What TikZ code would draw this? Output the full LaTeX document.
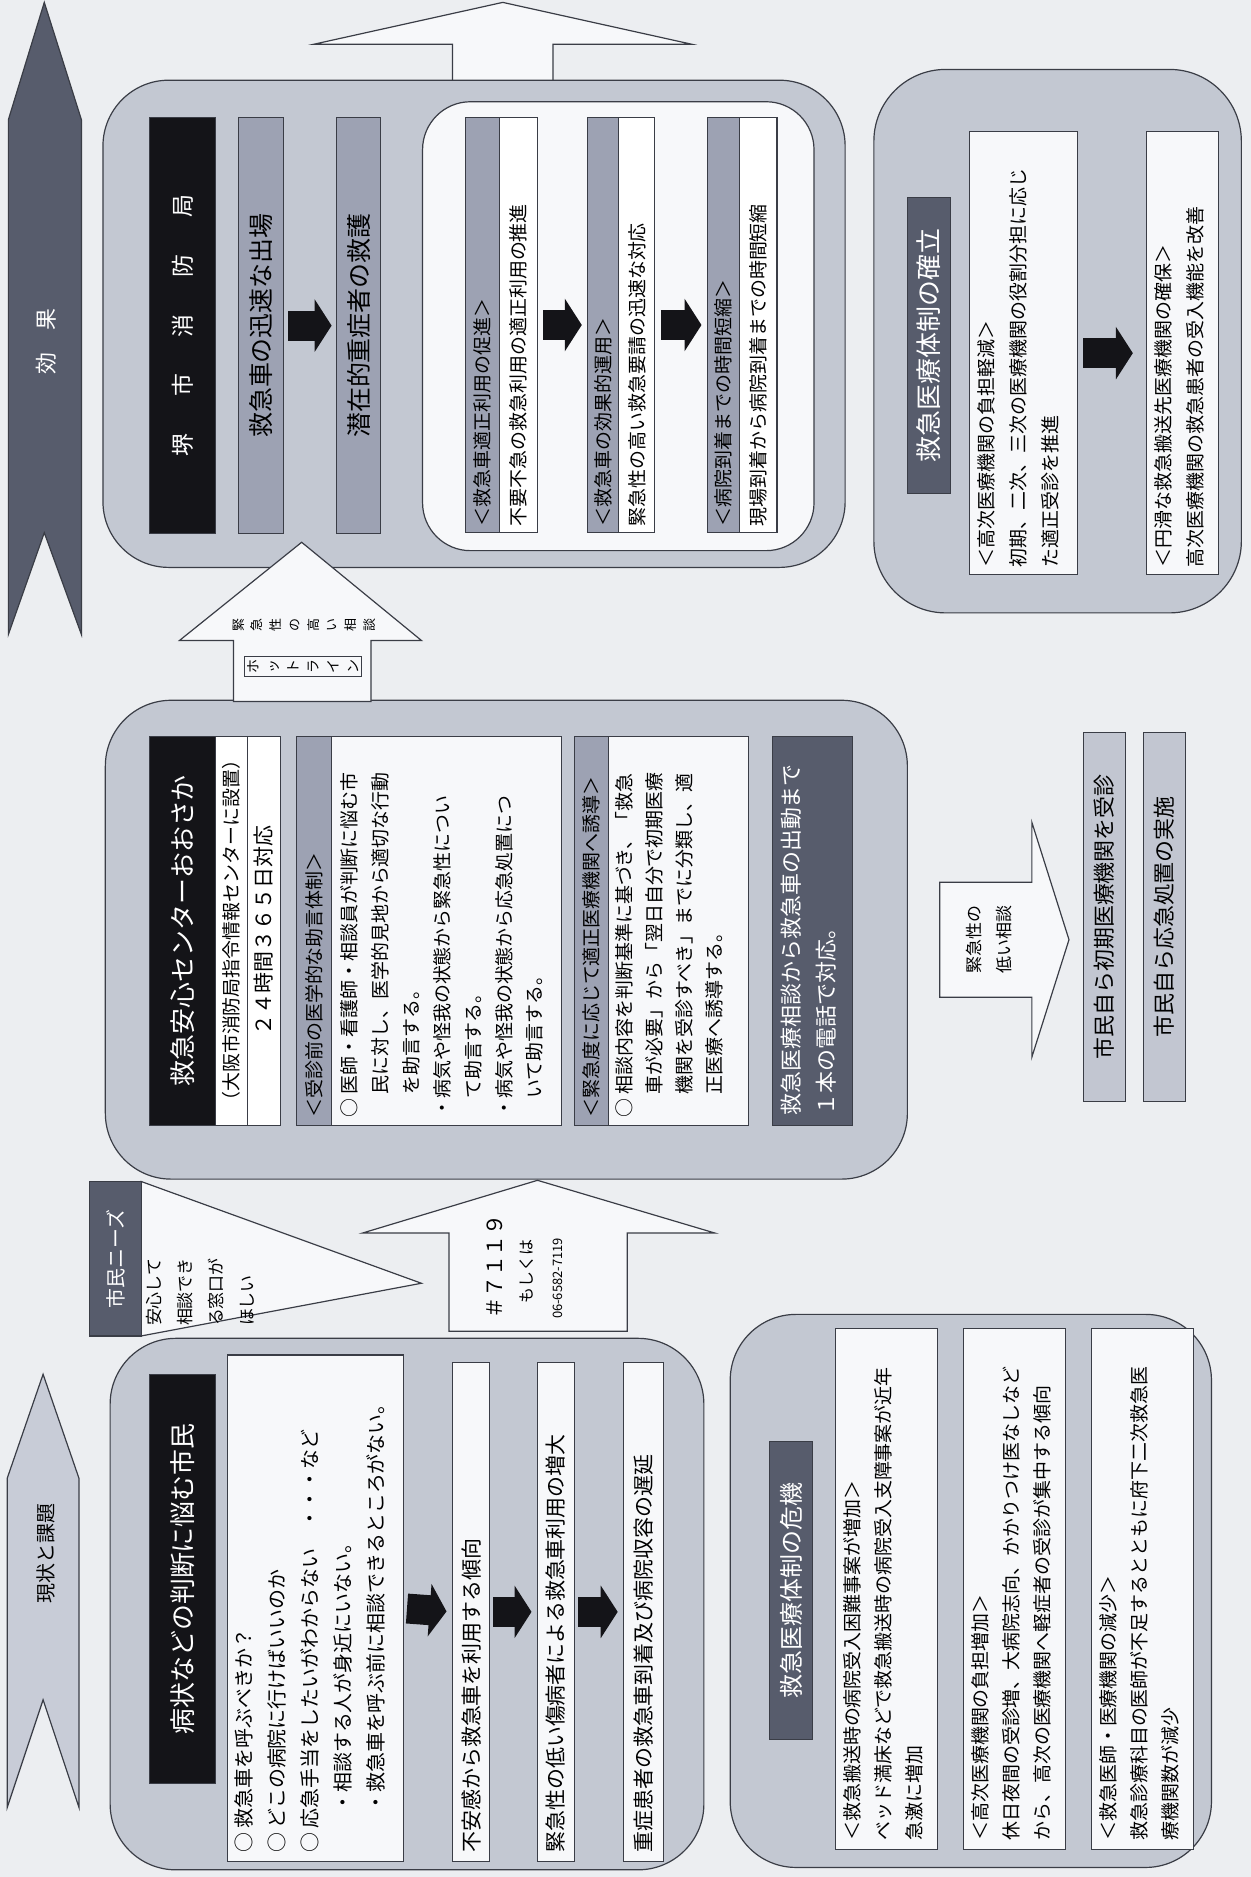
\documentclass[tikz,border=0pt]{standalone}
\usepackage{fontspec}
\setmainfont{Noto Sans CJK JP}
\usetikzlibrary{arrows.meta}
\definecolor{bgc}{HTML}{ECEEF1}
\definecolor{boxc}{HTML}{C3C8D2}
\definecolor{panelc}{HTML}{F7F8FA}
\definecolor{hdrc}{HTML}{9DA2B3}
\definecolor{darkc}{HTML}{575C6C}
\definecolor{blkc}{HTML}{141418}
\definecolor{edgec}{HTML}{3A3D46}
\definecolor{lightc}{HTML}{C8CCD7}
\definecolor{midc}{HTML}{C2C6D1}
\newcommand\fs[2]{\fontsize{#1}{#2}\selectfont}
% rotated rectangle node: name, x1,y1,x2,y2 (image coords), style, text
\newcommand\RB[7]{%
  \pgfmathsetmacro\rbcx{(#2+#4)/2}%
  \pgfmathsetmacro\rbcy{(#3+#5)/2}%
  \pgfmathsetmacro\rbw{abs(#5-#3)*0.6}%
  \pgfmathsetmacro\rbh{abs(#4-#2)*0.6}%
  \node[rotate=90, minimum width=\rbw pt, minimum height=\rbh pt, inner sep=0pt, outer sep=0pt, #6] (#1) at (\rbcx,\rbcy) {#7};}
\begin{document}
\begin{tikzpicture}[x=0.6pt,y=-0.6pt,
  outline/.style={draw=edgec, line width=0.6pt},
  bigbox/.style={outline, fill=boxc, rounded corners=33pt},
  whitebox/.style={outline, fill=panelc},
  purewhite/.style={outline, fill=white},
  hdrbox/.style={outline, fill=hdrc},
  blackbox/.style={outline, fill=blkc, text=white},
  darkbox/.style={outline, fill=darkc, text=white},
  midbox/.style={outline, fill=midc},
  txt/.style={rotate=90, inner sep=0pt},
  blkarrow/.style={draw=blkc, line width=15pt, -{Triangle[length=8.5pt,width=26pt]}}]
\useasboundingbox (0,0) rectangle (1045,1568);
\fill[bgc] (0,0) rectangle (1045,1568);

% ---- left column arrows
\draw[outline, fill=darkc] (37,2) -- (68,100) -- (68,530) -- (37,445) -- (7,530) -- (7,100) -- cycle;
\node[txt, text=white, font=\fs{11}{13}] (effT) at (39,285) {効　果};
\draw[outline, fill=lightc] (36,1148) -- (66,1235) -- (66,1510) -- (36,1420) -- (6,1510) -- (6,1235) -- cycle;
\node[txt, font=\fs{10}{12}] (genT) at (38,1298) {現状と課題};

% ---- top hollow arrow
\draw[outline, fill=panelc] (420,2) -- (578,37) -- (462,37) -- (462,68) -- (378,68) -- (378,37) -- (262,37) -- cycle;

% ---- Box 3 : Sakai fire department
\RB{b3}{86}{67}{706}{474}{bigbox}{}
\RB{b3t}{125}{98}{180}{446}{blackbox, font=\fs{11.5}{14}}{堺\hspace{1.6em}市\hspace{1.6em}消\hspace{1.6em}防\hspace{1.6em}局}
\RB{b3a}{199}{98}{237}{446}{hdrbox, font=\fs{12.5}{14}}{救急車の迅速な出場}
\RB{b3b}{281}{98}{318}{446}{hdrbox, font=\fs{12.5}{14}}{潜在的重症者の救護}
\draw[blkarrow, shorten <=2.4pt, shorten >=2.4pt] (b3a.south) -- (b3b.north);
\RB{b3in}{353}{85}{680}{460}{whitebox, rounded corners=24pt}{}
\RB{p1h}{389}{98}{417}{445}{hdrbox}{}
\RB{p1w}{417}{98}{449}{445}{purewhite}{}
\RB{p2h}{491}{98}{517}{445}{hdrbox}{}
\RB{p2w}{517}{98}{547}{445}{purewhite}{}
\RB{p3h}{591}{98}{618}{445}{hdrbox}{}
\RB{p3w}{618}{98}{649}{445}{purewhite}{}
\node[txt, anchor=west, font=\fs{9.5}{12}] (p1hT) at (403,440) {＜救急車適正利用の促進＞};
\node[txt, anchor=west, font=\fs{9.5}{12}] (p1wT) at (433,440) {不要不急の救急利用の適正利用の推進};
\node[txt, anchor=west, font=\fs{9.5}{12}] (p2hT) at (504,440) {＜救急車の効果的運用＞};
\node[txt, anchor=west, font=\fs{9.5}{12}] (p2wT) at (532,440) {緊急性の高い救急要請の迅速な対応};
\node[txt, anchor=west, font=\fs{9.5}{12}] (p3hT) at (604.5,440) {＜病院到着までの時間短縮＞};
\node[txt, anchor=west, font=\fs{9.5}{12}] (p3wT) at (633.5,440) {現場到着から病院到着までの時間短縮};
\draw[blkarrow, shorten <=3pt, shorten >=3pt] (p1w.south) -- (p2h.north);
\draw[blkarrow, shorten <=3pt, shorten >=3pt] (p2w.south) -- (p3h.north);

% ---- Box 2 : Kyukyu Anshin Center
\RB{b2}{88}{585}{758}{985}{bigbox}{}
\RB{b2t}{125}{615}{180}{940}{blackbox, font=\fs{13}{15}}{救急安心センターおおさか}
\RB{b2s1}{180}{615}{207}{940}{purewhite, font=\fs{9.5}{11}}{（大阪市消防局指令情報センターに設置）}
\RB{b2s2}{207}{615}{234}{940}{purewhite, font=\fs{10.5}{12}}{２４時間３６５日対応}
\RB{b2h1}{248}{615}{277}{940}{hdrbox}{}
\node[txt, anchor=west, font=\fs{9.5}{12}] (b2h1T) at (262.5,934) {＜受診前の医学的な助言体制＞};
\RB{b2p1}{277}{615}{469}{940}{whitebox}{}
\node[txt, anchor=north west, align=left, font=\fs{9.5}{15.5}] (b2p1T) at (284,934) {○ 医師・看護師・相談員が判断に悩む市\\
\hphantom{○ }民に対し、医学的見地から適切な行動\\
\hphantom{○ }を助言する。\\
・病気や怪我の状態から緊急性につい\\
\hphantom{・}て助言する。\\
・病気や怪我の状態から応急処置につ\\
\hphantom{・}いて助言する。};
\RB{b2h2}{480}{615}{508}{940}{hdrbox}{}
\node[txt, anchor=west, font=\fs{9.5}{12}] (b2h2T) at (494,934) {＜緊急度に応じて適正医療機関へ誘導＞};
\RB{b2p2}{508}{615}{625}{940}{whitebox}{}
\node[txt, anchor=north west, align=left, font=\fs{9.5}{15}] (b2p2T) at (514,934) {○ 相談内容を判断基準に基づき、「救急\\
\hphantom{○ }車が必要」から「翌日自分で初期医療\\
\hphantom{○ }機関を受診すべき」までに分類し、適\\
\hphantom{○ }正医療へ誘導する。};
\RB{b2d}{645}{615}{712}{940}{darkbox}{}
\node[txt, anchor=north west, align=left, text=white, font=\fs{11}{17.5}] (b2dT) at (652,932) {救急医療相談から救急車の出動まで\\１本の電話で対応。};

% ---- hotline arrow (box 2 -> box 3)
\draw[outline, fill=panelc] (252,453) -- (352,535) -- (310,535) -- (310,586) -- (195,586) -- (195,535) -- (150,535) -- cycle;
\node[txt, align=center, font=\fs{6.5}{9.4}] (hotT1) at (254,522) {緊\\急\\性\\の\\高\\い\\相\\談};
\node[txt, outline, fill=panelc, align=center, inner sep=1.5pt, font=\fs{7}{10}] (hotT2) at (253,557) {ホ\\ッ\\ト\\ラ\\イ\\ン};

% ---- citizens' needs callout
\draw[outline, fill=panelc] (118,987) -- (352,1072) -- (118,1116) -- cycle;
\RB{needs}{75}{987}{118}{1116}{darkbox, font=\fs{10}{12}}{市民ニーズ}
\node[txt, anchor=north west, align=left, font=\fs{8.5}{15.5}] (needT) at (122,1108) {安心して\\相談でき\\る窓口が\\ほしい};

% ---- #7119 arrow (box 1 -> box 2)
\draw[outline, fill=panelc] (449,986) -- (597,1030) -- (524,1030) -- (524,1112) -- (375,1112) -- (375,1030) -- (303,1030) -- cycle;
\node[txt, font=\fs{10.5}{12}] (telT1) at (413,1058) {＃７１１９};
\node[txt, font=\fs{8}{10}] (telT2) at (440,1062) {もしくは};
\node[txt, font=\fs{6.5}{8}] (telT3) at (466,1068) {06-6582-7119};

% ---- Box 1 : troubled citizens
\RB{b1}{92}{1118}{588}{1562}{bigbox}{}
\RB{b1t}{125}{1148}{180}{1490}{blackbox, font=\fs{13}{15}}{病状などの判断に悩む市民}
\RB{b1p}{190}{1132}{337}{1555}{whitebox}{}
\node[txt, anchor=north west, align=left, font=\fs{10}{16.5}] (b1pT) at (196,1548) {○ 救急車を呼ぶべきか？\\
○ どこの病院に行けばいいのか\\
○ 応急手当をしたいがわからない　・・・など\\
　　・相談する人が身近にいない。\\
　　・救急車を呼ぶ前に相談できるところがない。};
\RB{b1a}{378}{1138}{409}{1555}{whitebox}{}
\RB{b1b}{449}{1138}{480}{1555}{whitebox}{}
\RB{b1c}{521}{1138}{554}{1555}{whitebox}{}
\node[txt, anchor=west, font=\fs{10.5}{12}] (b1aT) at (393.5,1548) {不安感から救急車を利用する傾向};
\node[txt, anchor=west, font=\fs{10.5}{12}] (b1bT) at (464.5,1548) {緊急性の低い傷病者による救急車利用の増大};
\node[txt, anchor=west, font=\fs{10.5}{12}] (b1cT) at (537.5,1548) {重症患者の救急車到着及び病院収容の遅延};
\draw[blkarrow, shorten <=1.8pt, shorten >=3pt] (b1p.south) -- (b1a.north);
\draw[blkarrow, shorten <=1.8pt, shorten >=3pt] (b1a.south) -- (b1b.north);
\draw[blkarrow, shorten <=1.8pt, shorten >=3pt] (b1b.south) -- (b1c.north);

% ---- Box 4 : crisis
\RB{b4}{610}{1098}{1012}{1560}{bigbox}{}
\RB{b4t}{643}{1204}{679}{1453}{darkbox, font=\fs{12}{14}}{救急医療体制の危機}
\RB{b4p1}{698}{1110}{783}{1545}{whitebox}{}
\RB{b4p2}{805}{1110}{890}{1545}{whitebox}{}
\RB{b4p3}{912}{1110}{997}{1545}{whitebox}{}
\node[txt, anchor=north west, align=left, font=\fs{9.5}{15.6}] (b4p1T) at (704,1538) {＜救急搬送時の病院受入困難事案が増加＞\\ベッド満床などで救急搬送時の病院受入支障事案が近年\\急激に増加};
\node[txt, anchor=north west, align=left, font=\fs{9.5}{15.6}] (b4p2T) at (811,1538) {＜高次医療機関の負担増加＞\\休日夜間の受診増、大病院志向、かかりつけ医なしなど\\から、高次の医療機関へ軽症者の受診が集中する傾向};
\node[txt, anchor=north west, align=left, font=\fs{9.5}{15.6}] (b4p3T) at (918,1538) {＜救急医師・医療機関の減少＞\\救急診療科目の医師が不足するとともに府下二次救急医\\療機関数が減少};

% ---- Box 6 : establishment
\RB{b6}{730}{58}{1037}{512}{bigbox, rounded corners=36pt}{}
\RB{b6t}{758}{165}{794}{412}{darkbox, font=\fs{13}{15}}{救急医療体制の確立}
\RB{b6p1}{810}{110}{900}{480}{whitebox}{}
\RB{b6p2}{958}{110}{1018}{480}{whitebox}{}
\node[txt, anchor=north west, align=left, font=\fs{9.5}{16}] (b6p1T) at (816,474) {＜高次医療機関の負担軽減＞\\初期、二次、三次の医療機関の役割分担に応じ\\た適正受診を推進};
\node[txt, anchor=north west, align=left, font=\fs{9.5}{16}] (b6p2T) at (964,474) {＜円滑な救急搬送先医療機関の確保＞\\高次医療機関の救急患者の受入機能を改善};
\draw[blkarrow, shorten <=3pt, shorten >=7pt] (b6p1.south) -- (b6p2.north);

% ---- low urgency arrow and self-care bars
\draw[outline, fill=panelc] (785,737) -- (862,737) -- (862,687) -- (893,785) -- (862,883) -- (862,833) -- (785,833) -- cycle;
\node[txt, align=center, font=\fs{8.5}{15}] (lowT) at (826,785) {緊急性の\\低い相談};
\RB{m1}{905}{612}{940}{920}{midbox, font=\fs{11}{13}}{市民自ら初期医療機関を受診}
\RB{m2}{955}{612}{990}{920}{midbox, font=\fs{11}{13}}{市民自ら応急処置の実施}
\end{tikzpicture}
\end{document}
